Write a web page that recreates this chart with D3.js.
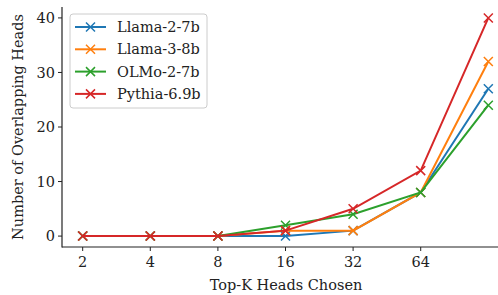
<!DOCTYPE html>
<html><head><meta charset="utf-8">
<script src="https://cdn.jsdelivr.net/npm/d3@7"></script>
<style>body{margin:0;background:#fff}svg{display:block}text{font-family:"DejaVu Serif",serif;fill:#222}</style>
</head><body><svg id="c" width="498" height="295"></svg>
<script>
const topK = ["2","4","8","16","32","64","128"];
const tickLabels = ["2","4","8","16","32","64"];
const yTicks = [0,10,20,30,40];
const seriesNames = ["Llama-2-7b","Llama-3-8b","OLMo-2-7b","Pythia-6.9b"];
const colors = ["#1f77b4","#ff7f0e","#2ca02c","#d62728"];
const llama2 = [0,0,0,0,1,8,27];
const llama3 = [0,0,0,1,1,8,32];
const olmo2 = [0,0,0,2,4,8,24];
const pythia = [0,0,0,1,5,12,40];
const values = [llama2, llama3, olmo2, pythia];

const FS = 14.5;
const svg = d3.select("#c");
const x = d3.scaleLinear().domain([-0.3, 6.3]).range([62.4, 508.6]);
const y = d3.scaleLinear().domain([-2, 42]).range([247, 7]);

// axes
const xAxis = svg.append("g").attr("transform","translate(0,247)");
xAxis.append("line").attr("x1",62).attr("x2",498).attr("y1",0).attr("y2",0).attr("stroke","#222").attr("stroke-width",1.2);
tickLabels.forEach((t,i)=>{
  xAxis.append("line").attr("x1",x(i)).attr("x2",x(i)).attr("y1",0).attr("y2",4).attr("stroke","#222").attr("stroke-width",1);
  xAxis.append("text").attr("x",x(i)).attr("y",20).attr("text-anchor","middle").attr("font-size",FS).text(t);
});
const yAxis = svg.append("g").attr("transform","translate(62,0)");
yAxis.append("line").attr("x1",0).attr("x2",0).attr("y1",7).attr("y2",247.6).attr("stroke","#222").attr("stroke-width",1.2);
yTicks.forEach(t=>{
  yAxis.append("line").attr("x1",-4).attr("x2",0).attr("y1",y(t)).attr("y2",y(t)).attr("stroke","#222").attr("stroke-width",1);
  yAxis.append("text").attr("x",-7).attr("y",y(t)).attr("dy","0.35em").attr("text-anchor","end").attr("font-size",FS).text(t);
});
svg.append("text").attr("x",286).attr("y",290).attr("text-anchor","middle").attr("font-size",FS).text("Top-K Heads Chosen");
svg.append("text").attr("transform","translate(23,127) rotate(-90)").attr("text-anchor","middle").attr("font-size",FS).text("Number of Overlapping Heads");

const line = d3.line().x((d,i)=>x(i)).y(d=>y(d));
const ms = 4.5;
values.forEach((vals,s)=>{
  const g = svg.append("g");
  g.append("path").attr("d",line(vals)).attr("fill","none").attr("stroke",colors[s]).attr("stroke-width",2);
  vals.forEach((v,i)=>{
    const cx=x(i), cy=y(v);
    g.append("path").attr("d",`M${cx-ms},${cy-ms}L${cx+ms},${cy+ms}M${cx-ms},${cy+ms}L${cx+ms},${cy-ms}`).attr("stroke",colors[s]).attr("stroke-width",1.5);
  });
});

// legend
const lg = svg.append("g");
lg.append("rect").attr("x",70).attr("y",14).attr("width",137).attr("height",94).attr("rx",3).attr("fill","#fff").attr("fill-opacity",0.8).attr("stroke","#ccc").attr("stroke-width",1);
seriesNames.forEach((n,s)=>{
  const yy = 27 + s*22.3;
  lg.append("line").attr("x1",75).attr("x2",106).attr("y1",yy).attr("y2",yy).attr("stroke",colors[s]).attr("stroke-width",2);
  const cx=90.5;
  lg.append("path").attr("d",`M${cx-ms},${yy-ms}L${cx+ms},${yy+ms}M${cx-ms},${yy+ms}L${cx+ms},${yy-ms}`).attr("stroke",colors[s]).attr("stroke-width",1.5);
  lg.append("text").attr("x",117).attr("y",yy).attr("dy","0.35em").attr("font-size",FS).text(n);
});
</script></body></html>
